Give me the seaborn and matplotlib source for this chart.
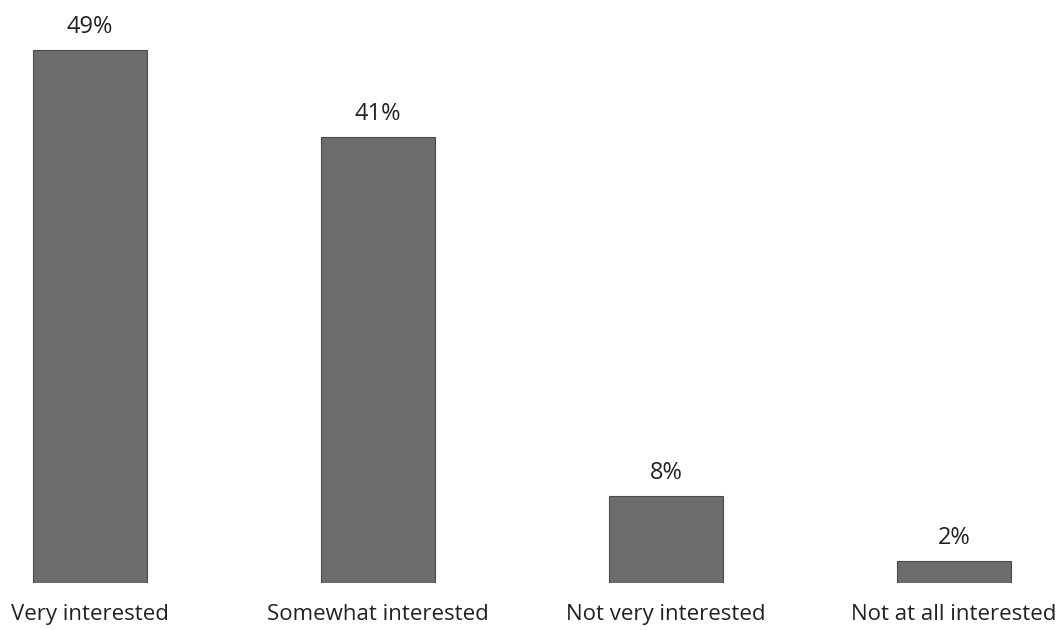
import matplotlib
matplotlib.use("Agg")
import matplotlib.pyplot as plt
import seaborn as sns
import pandas as pd

categories = ["Very interested", "Somewhat interested", "Not very interested", "Not at all interested"]
values = [49, 41, 8, 2]
value_labels = ["49%", "41%", "8%", "2%"]

sns.set_theme(style="white")
plt.rcParams["font.family"] = ["Open Sans", "DejaVu Sans"]

df = pd.DataFrame({"category": categories, "value": values})

fig = plt.figure(figsize=(10.58, 6.3), dpi=100)
ax = fig.add_axes([0.0, 0.0746, 1.0, 0.9254])

sns.barplot(data=df, x="category", y="value", order=categories,
            color="#6c6c6c", width=0.396, saturation=1,
            edgecolor="#4a4a4a", linewidth=0.8, ax=ax)

for i, (v, lab) in enumerate(zip(values, value_labels)):
    ax.annotate(lab, (i, v), xytext=(0, 8), textcoords="offset points",
                ha="center", va="bottom", fontsize=17, color="#222222")

ax.set_xlim(-0.3125, 3.361)
ax.set_ylim(0, 53.6)
ax.set_xlabel("")
ax.set_ylabel("")
ax.set_yticks([])
ax.tick_params(axis="x", length=0, pad=15, labelsize=16, labelcolor="#222222")
for s in ax.spines.values():
    s.set_visible(False)

fig.savefig("out.png", dpi=100)
